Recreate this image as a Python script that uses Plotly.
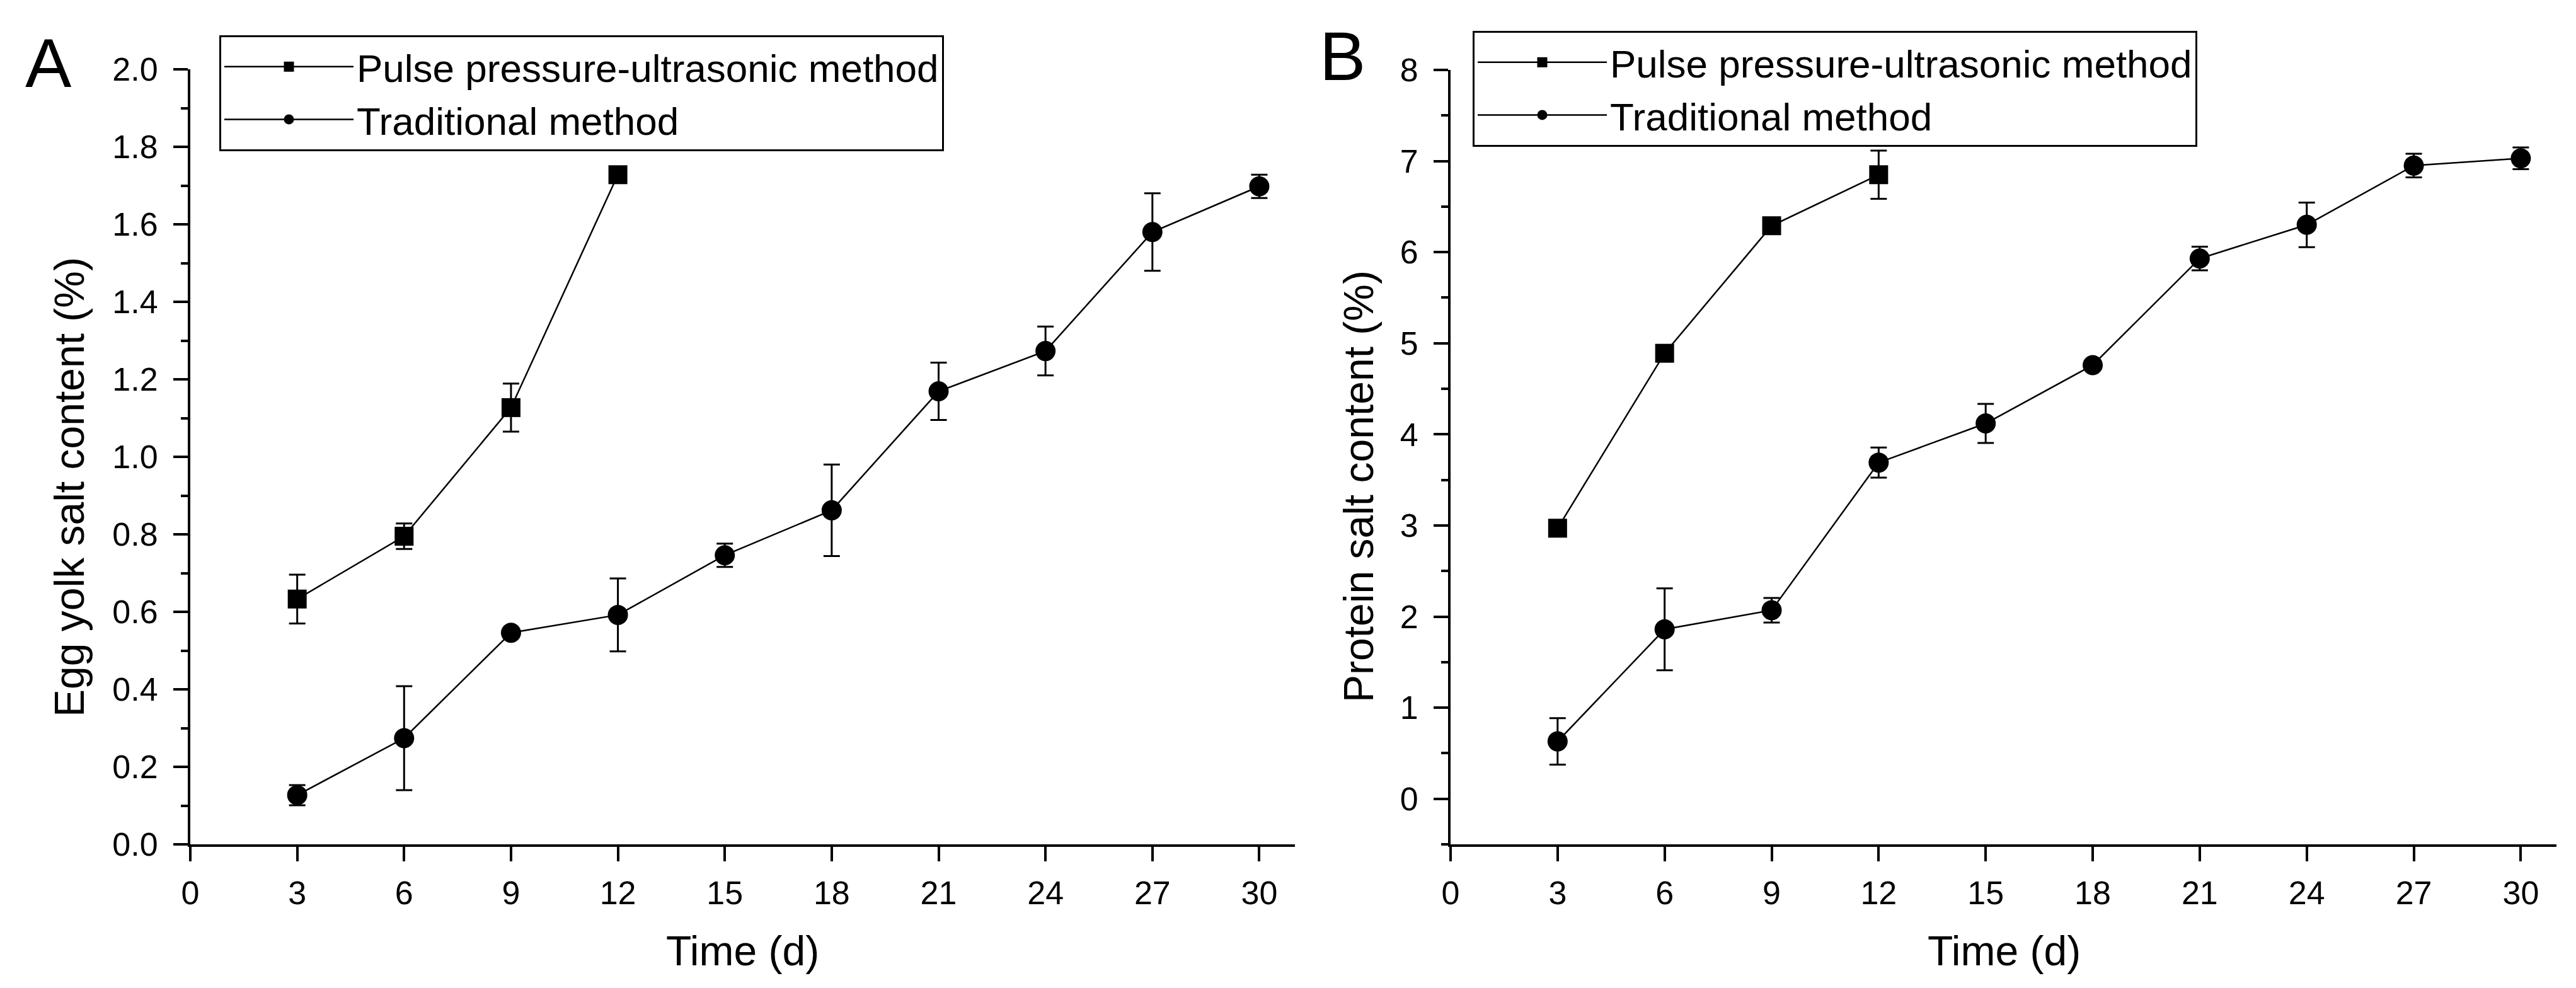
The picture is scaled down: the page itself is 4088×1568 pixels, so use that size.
import plotly.graph_objects as go

# ---------------- data ----------------
days_ppu = [3, 6, 9, 12]
days_trad = [3, 6, 9, 12, 15, 18, 21, 24, 27, 30]

yolk_ppu = [0.633, 0.795, 1.127, 1.728]
yolk_ppu_err = [0.063, 0.033, 0.062, 0.010]
yolk_trad = [0.127, 0.274, 0.546, 0.592, 0.746, 0.862, 1.169, 1.273, 1.580, 1.698]
yolk_trad_err = [0.026, 0.134, 0.010, 0.094, 0.030, 0.118, 0.074, 0.063, 0.100, 0.030]

prot_ppu = [2.97, 4.89, 6.29, 6.85]
prot_ppu_err = [0.04, 0.04, 0.04, 0.265]
prot_trad = [0.63, 1.86, 2.07, 3.69, 4.12, 4.76, 5.93, 6.30, 6.95, 7.03]
prot_trad_err = [0.255, 0.45, 0.135, 0.165, 0.215, 0.05, 0.13, 0.245, 0.13, 0.12]

name_ppu = "Pulse pressure-ultrasonic method"
name_trad = "Traditional method"
x_ticks = [0, 3, 6, 9, 12, 15, 18, 21, 24, 27, 30]

# ---------------- style ----------------
W, H = 4088, 1568
FONT = "Arial, 'Liberation Sans', sans-serif"
BLACK = "#000000"


def px_x(p):
    return p / W


def px_y(p):
    return 1 - p / H


fig = go.Figure()


def add_series(x, y, err, name, symbol, size, xa, ya, legend):
    fig.add_trace(go.Scatter(
        x=x, y=y, name=name, mode="lines+markers",
        xaxis=xa, yaxis=ya, legend=legend,
        line=dict(color=BLACK, width=2.5),
        marker=dict(symbol=symbol, size=size, color=BLACK,
                    line=dict(color=BLACK, width=0)),
        error_y=dict(type="data", array=err, visible=True,
                     color=BLACK, thickness=3, width=13),
    ))


add_series(days_ppu, yolk_ppu, yolk_ppu_err, name_ppu, "square", 30, "x", "y", "legend")
add_series(days_trad, yolk_trad, yolk_trad_err, name_trad, "circle", 32, "x", "y", "legend")
add_series(days_ppu, prot_ppu, prot_ppu_err, name_ppu, "square", 30, "x2", "y2", "legend2")
add_series(days_trad, prot_trad, prot_trad_err, name_trad, "circle", 32, "x2", "y2", "legend2")

axis_common = dict(
    showline=True, linecolor=BLACK, linewidth=4, mirror=False,
    ticks="outside", ticklen=23, tickwidth=4, tickcolor=BLACK,
    showgrid=False, zeroline=False, automargin=False,
    tickfont=dict(family=FONT, size=52, color=BLACK),
)

xaxis_common = dict(axis_common, tickmode="array", tickvals=x_ticks,
                    range=[0, 31], ticklabelstandoff=6)

legend_common = dict(
    font=dict(family=FONT, size=62, color=BLACK),
    bordercolor=BLACK, borderwidth=3, bgcolor="white",
    itemwidth=205, xanchor="left", yanchor="top", tracegroupgap=0,
)

fig.update_layout(
    template="none",
    width=W, height=H,
    margin=dict(l=0, r=0, t=0, b=0, pad=0, autoexpand=False),
    paper_bgcolor="white", plot_bgcolor="white",
    font=dict(family=FONT, color=BLACK),
    xaxis=dict(xaxis_common, domain=[px_x(302), px_x(2055)], anchor="y"),
    yaxis=dict(axis_common, domain=[px_y(1340), px_y(110)], anchor="x",
               range=[0, 2], dtick=0.2, tick0=0, tickformat=".1f",
               ticklabelstandoff=14,
               minor=dict(dtick=0.1, ticks="outside", ticklen=11,
                          tickwidth=4, tickcolor=BLACK)),
    xaxis2=dict(xaxis_common, domain=[px_x(2302), px_x(4057)], anchor="y2"),
    yaxis2=dict(axis_common, domain=[px_y(1340), px_y(111)], anchor="x2",
                range=[-0.5, 8], dtick=1, tick0=0,
                ticklabelstandoff=14,
                minor=dict(dtick=0.5, tick0=0, ticks="outside", ticklen=11,
                           tickwidth=4, tickcolor=BLACK)),
    legend=dict(legend_common, x=px_x(348), y=px_y(56)),
    legend2=dict(legend_common, x=px_x(2337), y=px_y(49)),
)

annotations = [
    # panel letters
    dict(text="A", x=px_x(38), y=px_y(36), xanchor="left", yanchor="top",
         font=dict(family=FONT, size=110, color=BLACK)),
    dict(text="B", x=px_x(2092), y=px_y(25), xanchor="left", yanchor="top",
         font=dict(family=FONT, size=110, color=BLACK)),
    # axis titles
    dict(text="Time (d)", x=px_x(1178), y=px_y(1509), xanchor="center", yanchor="middle",
         font=dict(family=FONT, size=66, color=BLACK)),
    dict(text="Time (d)", x=px_x(3180), y=px_y(1509), xanchor="center", yanchor="middle",
         font=dict(family=FONT, size=66, color=BLACK)),
    dict(text="Egg yolk salt content (%)", x=px_x(110), y=px_y(773), textangle=-90,
         xanchor="center", yanchor="middle",
         font=dict(family=FONT, size=66, color=BLACK)),
    dict(text="Protein salt content (%)", x=px_x(2156), y=px_y(772), textangle=-90,
         xanchor="center", yanchor="middle",
         font=dict(family=FONT, size=66, color=BLACK)),
]
for a in annotations:
    a.update(xref="paper", yref="paper", showarrow=False)
fig.update_layout(annotations=annotations)

fig.write_html("out.html",
               config={"displayModeBar": False},
               post_script="document.body.style.margin='0px';")
